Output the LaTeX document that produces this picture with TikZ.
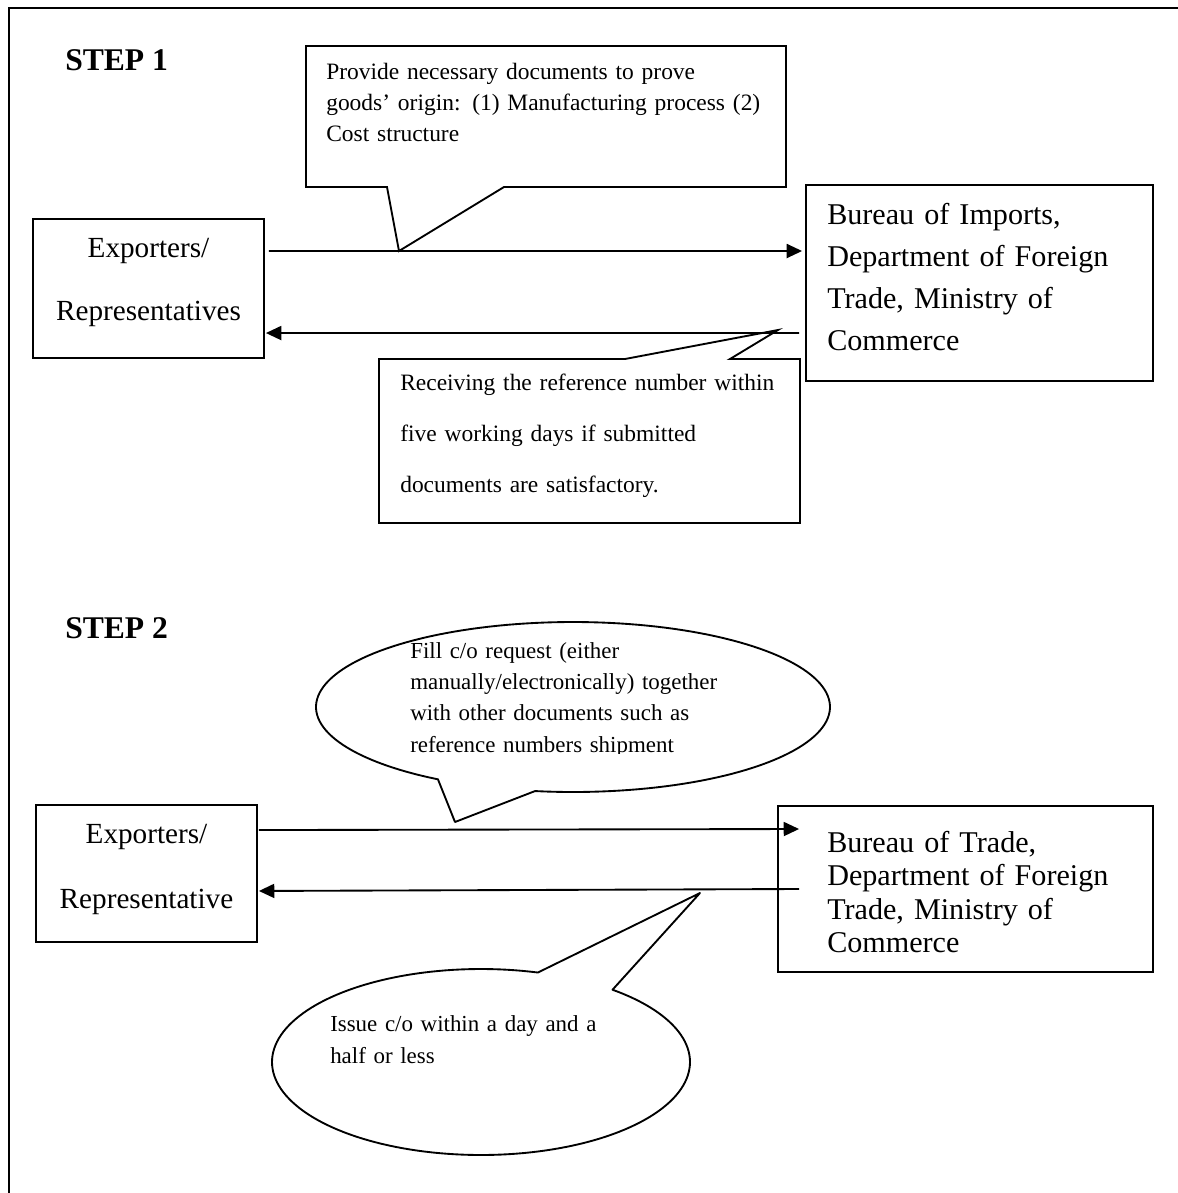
\documentclass[tikz,border=0pt]{standalone}
\usepackage{fontspec}
\setmainfont{Liberation Serif}
\usetikzlibrary{arrows.meta}
\begin{document}
\begin{tikzpicture}[x=0.75pt,y=-0.75pt,
  ln/.style={line width=1.4pt,line join=miter},
  box/.style={draw,line width=1.4pt,rectangle,inner sep=0pt},
  arr/.style={line width=1.4pt,-{Triangle[length=11.5pt,width=10.5pt]}},
  txt/.style={inner sep=0pt,align=left,anchor=base west,text width=#1},
  ctxt/.style={inner sep=0pt,align=center,anchor=base,text width=#1},
  steplbl/.style={inner sep=0pt,anchor=base west,font=\fontsize{23.7}{28}\selectfont\bfseries},
  smallf/.style={font=\fontsize{17.6}{#1}\selectfont},
  bigf/.style={font=\fontsize{22.6}{#1}\selectfont},
  midf/.style={font=\fontsize{21.9}{#1}\selectfont}
]
\useasboundingbox (0,0) rectangle (1178,1193);
% frame
\draw[line width=1.2pt] (9,1193) -- (9,8) -- (1178,8);

% ---------- STEP 1 ----------
\node[steplbl] (s1) at (65,70) {STEP 1};

\node[box,minimum width=173.25pt,minimum height=104.25pt] (e1) at (148.5,288.5) {};
\node[ctxt=170pt,midf=47.25pt] (e1t) at (148.5,257) {Exporters/\\Representatives};

\node[box,minimum width=260.25pt,minimum height=147pt] (b1) at (979.5,283) {};
\node[txt=250pt,bigf=31.7pt] (b1t) at (827,224) {Bureau of Imports,\\Department of Foreign\\Trade, Ministry of\\Commerce};

\draw[arr] ([xshift=3pt,yshift=28.1pt]e1.east) -- ([xshift=-2.25pt,yshift=24pt]b1.west);
\draw[arr] ([xshift=-4.5pt,yshift=-37.5pt]b1.west) -- ([xshift=0.75pt,yshift=-33.4pt]e1.east);

% callout 1
\draw[ln] (306,46) -- (786,46) -- (786,187) -- (504,187) -- (399,251) -- (387,187) -- (306,187) -- cycle;
\node[txt=350pt,smallf=23.25pt] (c1t) at (326,79) {Provide necessary documents to prove\\goods’ origin: (1) Manufacturing process (2)\\Cost structure};

% callout 2
\draw[ln] (379,359) -- (625,359) -- (778,330) -- (730,359) -- (800,359) -- (800,523) -- (379,523) -- cycle;
\node[txt=300pt,smallf=38.25pt] (c2t) at (400,390) {Receiving the reference number within\\five working days if submitted\\documents are satisfactory.};

% ---------- STEP 2 ----------
\node[steplbl] (s2) at (65,638) {STEP 2};

\node[box,minimum width=165.75pt,minimum height=102.75pt] (e2) at (146.5,873.5) {};
\node[ctxt=160pt,midf=48.75pt] (e2t) at (146.5,843) {Exporters/\\Representative};

\node[box,minimum width=281.25pt,minimum height=124.5pt] (b2) at (965.5,889) {};
\node[txt=260pt,bigf=25.2pt] (b2t) at (827,852) {Bureau of Trade,\\Department of Foreign\\Trade, Ministry of\\Commerce};

\draw[arr] ([xshift=0.75pt,yshift=32.6pt]e2.east) -- ([xshift=16.5pt,yshift=45pt]b2.west);
\draw[arr] ([xshift=16.5pt]b2.west) -- ([xshift=0.75pt,yshift=-13.1pt]e2.east);

% ellipse callout 1
\draw[ln,line join=round] plot[domain=121.7:458.5,samples=160,variable=\t] ({573+257*cos(\t)},{707+85*sin(\t)}) -- (455,822) -- cycle;
\begin{scope}
\clip (300,600) rectangle (850,753);
\node[txt=300pt,font=\fontsize{17.2}{23.6pt}\selectfont] (el1t) at (410,658) {Fill c/o request (either\\manually/electronically) together\\with other documents such as\\reference numbers shipment};
\end{scope}

% ellipse callout 2
\draw[ln,line join=round] plot[domain=-51:285.8,samples=160,variable=\t] ({481+209*cos(\t)},{1062+93*sin(\t)}) -- (700,893) -- cycle;
\node[txt=260pt,font=\fontsize{17.2}{24pt}\selectfont] (el2t) at (330,1031) {Issue c/o within a day and a\\half or less};
\end{tikzpicture}
\end{document}
